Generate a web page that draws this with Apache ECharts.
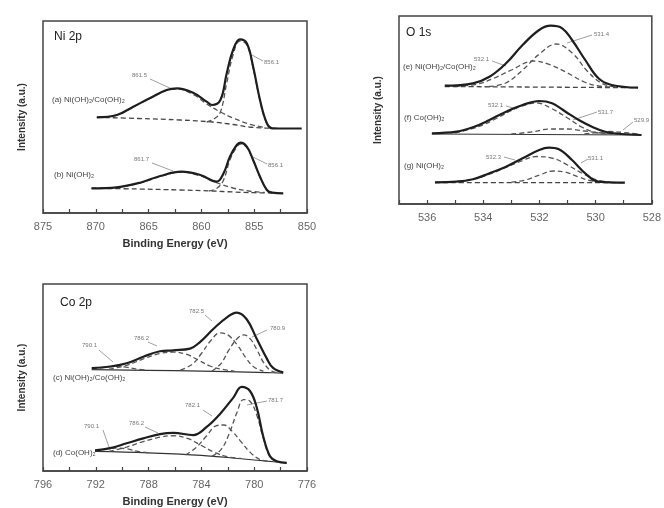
<!DOCTYPE html>
<html>
<head>
<meta charset="utf-8">
<script src="https://cdn.jsdelivr.net/npm/echarts@6/dist/echarts.min.js"></script>
<style>
  html, body { margin: 0; padding: 0; background: #fff; }
  #main { width: 664px; height: 508px; }
</style>
</head>
<body>
<div id="main"></div>
<script>
// binding energy (eV), intensity (a.u.)

// Ni 2p, (a) Ni(OH)2/Co(OH)2
const niA_env = [[869.9,95.7],[868.0,98],[866.45,106.3],[864.9,114.7],[863.3,123],[862.3,124.7],[860.7,119.7],[859.5,111.3],[859.0,108],[858.2,113],[857.6,139.7],[857.0,163],[856.35,173.7],[855.7,169.7],[855.1,146.3],[854.45,113],[853.8,89.7],[853.3,84.7],[852.0,84.5],[850.5,84.5]];
const niA_base = [[869.9,95.7],[866,94.5],[862,93],[859,91],[857,88.5],[855.5,86],[854,85],[852.5,84.5]];
const niA_sat = [[869.9,95.7],[868,98],[866.45,106],[864.9,114.5],[863.3,122.5],[862.3,124],[860.7,118],[859.5,109],[858.2,101],[857,95],[855.5,89],[854,85.5]];
const niA_main = [[859.5,91],[858.8,94],[858.2,101],[857.6,130],[857.0,158],[856.35,172],[855.7,168],[855.1,145],[854.45,112],[853.8,89.5],[853.3,85]];
// Ni 2p, (b) Ni(OH)2
const niB_env = [[870.4,24.7],[868,25.7],[865.8,30.3],[863.9,37],[861.9,41.3],[860.1,38],[858.55,31.3],[857.9,39.7],[857.3,56.3],[856.65,68],[856.3,70.3],[855.7,66.3],[855.1,53],[854.45,36.3],[853.8,23],[853.3,20.3],[852.25,19.7]];
const niB_base = [[870.4,24.7],[866,24],[862,23],[859,22],[857,21],[855,20.3],[853.3,20]];
const niB_sat = [[870.4,24.7],[868,25.7],[865.8,30],[863.9,36.5],[861.9,40.8],[860.1,37],[858.5,30],[857,25],[855.5,22],[854,20.5]];
const niB_main = [[859.3,22],[858.5,25],[857.9,33],[857.3,53],[856.65,66],[856.3,69],[855.7,65.5],[855.1,52.5],[854.45,36],[853.8,23],[853.3,20.3]];

// O 1s, (e) Ni(OH)2/Co(OH)2
const oE_env = [[535.37,118.3],[534.37,120.7],[533.78,127.3],[533.19,140.7],[532.6,159],[532.01,174],[531.6,178.3],[531.19,175.7],[530.84,164],[530.37,144],[529.9,125.7],[529.43,119],[528.49,116.3]];
const oE_base = [[535.37,117.5],[528.49,116.3]];
const oE_c1 = [[533.8,117.5],[533.2,121],[532.6,134],[532.0,150],[531.4,160],[530.8,150],[530.3,133],[529.8,121],[529.3,117]];
const oE_c2 = [[535.0,117.5],[534.2,120],[533.6,126],[533.0,134],[532.2,143],[531.6,139],[531.0,131],[530.4,122],[529.9,118],[529.4,117]];
// O 1s, (f) Co(OH)2
const oF_env = [[535.83,70.7],[534.95,72.3],[534.37,76.7],[533.78,84],[533.19,92.3],[532.6,99],[532.01,103],[531.55,100.7],[531.07,92.3],[530.6,84],[530.13,77.3],[529.66,72.3],[529.08,70],[528.37,69]];
const oF_base = [[535.83,70],[528.37,69]];
const oF_c1 = [[535.0,71],[534.2,77],[533.5,86],[532.8,96],[532.1,101],[531.6,96],[531.0,86],[530.5,77],[530.0,71.5],[529.4,70]];
const oF_c2 = [[533.0,70],[532.3,72],[531.6,75],[531.0,75],[530.4,73],[529.8,71],[529.2,70]];
const oF_c3 = [[530.4,70],[529.9,71.5],[529.5,72.5],[529.0,71.5],[528.5,70]];
// O 1s, (g) Ni(OH)2
const oG_env = [[535.72,21.7],[534.95,22.3],[534.37,24.7],[533.78,30.7],[533.19,37.3],[532.6,45.7],[532.01,54],[531.66,56.3],[531.31,54.7],[530.84,44],[530.37,30.7],[529.9,22.3],[528.96,21.3]];
const oG_base = [[535.72,21.5],[528.96,21.3]];
const oG_c1 = [[535.5,21.7],[534.5,24],[533.8,29.5],[533.2,36.5],[532.6,43.5],[532.1,47.5],[531.5,45.5],[531.0,39],[530.5,31],[530.0,24.5],[529.5,21.8]];
const oG_c2 = [[533.0,21.8],[532.5,24],[532.0,29],[531.5,33],[531.1,32],[530.6,27],[530.2,23.5],[529.7,21.8]];

// Co 2p, (c) Ni(OH)2/Co(OH)2
const coC_env = [[792.31,105],[790.92,106.7],[789.66,110],[788.4,116.7],[787.14,122.3],[786.13,123.3],[784.86,125],[784.11,131.7],[783.1,145],[782.09,156.7],[781.33,161.7],[780.57,155],[779.81,135],[779.05,115],[778.55,105],[777.8,100.7]];
const coC_base = [[792.31,103.5],[786,102.5],[782,101.5],[779,100.5],[777.8,100]];
const coC_s1 = [[792.3,104],[791.3,106],[790.5,107],[789.7,106],[788.9,104],[788.2,103.2]];
const coC_s2 = [[791.0,104],[789.66,108],[788.4,114.5],[787.14,120],[786.13,121.5],[785.1,119],[784.2,113],[783.3,107],[782.3,103.5],[781.5,102]];
const coC_p1 = [[785.6,103],[784.7,109],[784.0,120],[783.3,133],[782.6,141],[782.0,139],[781.3,129],[780.6,115],[780.0,106],[779.3,102]];
const coC_p2 = [[783.2,102],[782.5,110],[781.9,124],[781.3,135],[780.8,139],[780.3,135],[779.8,124],[779.3,111],[778.8,103],[778.3,100.5]];
// Co 2p, (d) Co(OH)2
const coD_env = [[792.06,21],[790.92,23.3],[789.66,28.3],[788.4,33.3],[787.14,37.7],[786.13,39],[784.61,36.7],[783.6,45],[782.59,58.3],[781.58,75],[780.95,86],[780.32,81.7],[779.81,65],[779.31,35],[778.8,15],[778.3,10],[777.54,8.3]];
const coD_base = [[792.06,20],[788,18.5],[784,16],[781,12.5],[779,10],[777.54,8.3]];
const coD_s1 = [[792.0,20.5],[791.2,22.5],[790.4,23.5],[789.6,22.5],[788.8,20],[788.0,18.5]];
const coD_s2 = [[791.0,20],[789.66,24.5],[788.4,30],[787.14,34.5],[786.13,36],[785.0,33],[784.0,26],[783.0,19],[782.0,14.5],[781.0,12.8]];
const coD_p1 = [[785.2,16.5],[784.4,24],[783.6,36],[782.9,46],[782.3,47],[781.7,41],[781.0,30],[780.3,19],[779.6,12],[779.0,10]];
const coD_p2 = [[783.2,15],[782.5,22],[781.9,38],[781.3,60],[780.8,73],[780.3,71],[779.8,57],[779.3,33],[778.8,14],[778.3,9.5]];

// axis ranges: [min, max, tick step, label step]
const niAxis = [850, 875, 2.5, 5];
const oAxis = [528, 537, 1, 2];
const coAxis = [776, 796, 2, 4];

const chart = echarts.init(document.getElementById('main'));

const envStyle = { color: '#1e1e1e', width: 2.2 };
const compStyle = { color: '#555', width: 1.3, type: [5, 3] };
const baseDash = { color: '#444', width: 1.3, type: [5, 3] };
const baseSolid = { color: '#333', width: 1.2 };

const line = (data, g, style) => ({
    type: 'line', data, xAxisIndex: g, yAxisIndex: g,
    symbol: 'none', smooth: 0.4, silent: true,
    lineStyle: style, z: style === envStyle ? 5 : 3
});

const xAx = (g, ax, name) => ({
    type: 'value', gridIndex: g, inverse: true,
    min: ax[0], max: ax[1], interval: ax[2],
    axisLine: { show: true, lineStyle: { color: '#444', width: 1.5 } },
    axisTick: { show: true, inside: true, length: 4, lineStyle: { color: '#444', width: 1.2 } },
    axisLabel: {
        color: '#666', fontSize: 11, fontFamily: 'Liberation Sans', margin: 8,
        formatter: v => (Math.abs(v / ax[3] - Math.round(v / ax[3])) < 1e-6 ? String(v) : '')
    },
    splitLine: { show: false },
    name: name || '', nameLocation: 'middle', nameGap: 25,
    nameTextStyle: { color: '#333', fontSize: 11, fontWeight: 'bold', fontFamily: 'Liberation Sans' }
});

const yAx = (g, max) => ({
    type: 'value', gridIndex: g, min: 0, max,
    axisLine: { show: false }, axisTick: { show: false }, axisLabel: { show: false },
    splitLine: { show: false },
    name: 'Intensity (a.u.)', nameLocation: 'middle', nameGap: 16, nameRotate: 90,
    nameTextStyle: { color: '#333', fontSize: 10, fontWeight: 'bold', fontFamily: 'Liberation Sans' }
});

const txt = (text, x, y, size, color, weight) => ({
    type: 'text', x, y, silent: true,
    style: { text, fontSize: size, fill: color, fontFamily: 'Liberation Sans',
             fontWeight: weight || 'normal', textVerticalAlign: 'middle' }
});
const lead = (x1, y1, x2, y2) => ({
    type: 'line', silent: true,
    shape: { x1, y1, x2, y2 }, style: { stroke: '#888', lineWidth: 0.8 }
});

chart.setOption({
    animation: false,
    grid: [
        { left: 43, top: 21, width: 264, height: 192, show: true, borderColor: '#444', borderWidth: 1.5 },
        { left: 399, top: 16, width: 256, height: 188, show: true, borderColor: '#444', borderWidth: 1.5 },
        { left: 43, top: 284, width: 264, height: 191, show: true, borderColor: '#444', borderWidth: 1.5 }
    ],
    xAxis: [xAx(0, niAxis, 'Binding Energy (eV)'), xAx(1, oAxis), xAx(2, coAxis, 'Binding Energy (eV)')],
    yAxis: [yAx(0, 192), yAx(1, 188), yAx(2, 191)],
    series: [
        line(niA_base, 0, baseDash), line(niA_sat, 0, compStyle), line(niA_main, 0, compStyle), line(niA_env, 0, envStyle),
        line(niB_base, 0, baseDash), line(niB_sat, 0, compStyle), line(niB_main, 0, compStyle), line(niB_env, 0, envStyle),
        line(oE_base, 1, baseDash), line(oE_c1, 1, compStyle), line(oE_c2, 1, compStyle), line(oE_env, 1, envStyle),
        line(oF_base, 1, baseSolid), line(oF_c1, 1, compStyle), line(oF_c2, 1, compStyle), line(oF_c3, 1, compStyle), line(oF_env, 1, envStyle),
        line(oG_base, 1, baseDash), line(oG_c1, 1, compStyle), line(oG_c2, 1, compStyle), line(oG_env, 1, envStyle),
        line(coC_base, 2, baseSolid), line(coC_s1, 2, compStyle), line(coC_s2, 2, compStyle), line(coC_p1, 2, compStyle), line(coC_p2, 2, compStyle), line(coC_env, 2, envStyle),
        line(coD_base, 2, baseSolid), line(coD_s1, 2, compStyle), line(coD_s2, 2, compStyle), line(coD_p1, 2, compStyle), line(coD_p2, 2, compStyle), line(coD_env, 2, envStyle)
    ],
    graphic: [
        // panel titles
        txt('Ni 2p', 54, 37, 12, '#222'),
        txt('O 1s', 406, 33, 12, '#222'),
        txt('Co 2p', 60, 303, 12, '#222'),
        // sample labels
        txt('(a) Ni(OH)₂/Co(OH)₂', 52, 100, 8, '#444'),
        txt('(b) Ni(OH)₂', 54, 175, 8, '#444'),
        txt('(e) Ni(OH)₂/Co(OH)₂', 403, 67, 8, '#444'),
        txt('(f) Co(OH)₂', 404, 118, 8, '#444'),
        txt('(g) Ni(OH)₂', 404, 166, 8, '#444'),
        txt('(c) Ni(OH)₂/Co(OH)₂', 53, 378, 8, '#444'),
        txt('(d) Co(OH)₂', 53, 453, 8, '#444'),
        // Ni 2p peak labels
        txt('861.5', 132, 75, 6, '#777'), lead(150, 79, 172, 89),
        txt('856.1', 264, 62, 6, '#777'), lead(252, 55, 263, 61),
        txt('861.7', 134, 159, 6, '#777'), lead(152, 163, 173, 171),
        txt('856.1', 268, 165, 6, '#777'), lead(253, 157, 267, 164),
        // O 1s peak labels
        txt('532.1', 474, 59, 6, '#777'), lead(492, 61, 506, 66),
        txt('531.4', 594, 34, 6, '#777'), lead(592, 35, 567, 43),
        txt('532.1', 488, 105, 6, '#777'), lead(506, 106, 517, 109),
        txt('531.7', 598, 112, 6, '#777'), lead(597, 112, 573, 120),
        txt('529.9', 634, 120, 6, '#777'), lead(633, 122, 623, 130),
        txt('532.3', 486, 157, 6, '#777'), lead(504, 157, 515, 160),
        txt('531.1', 588, 158, 6, '#777'), lead(588, 159, 581, 163),
        // Co 2p peak labels
        txt('782.5', 189, 311, 6, '#777'), lead(205, 315, 212, 321),
        txt('780.9', 270, 328, 6, '#777'), lead(267, 330, 252, 337),
        txt('786.2', 134, 338, 6, '#777'), lead(148, 342, 157, 346),
        txt('790.1', 82, 345, 6, '#777'), lead(99, 350, 113, 362),
        txt('781.7', 268, 400, 6, '#777'), lead(267, 401, 247, 405),
        txt('782.1', 185, 405, 6, '#777'), lead(203, 410, 212, 416),
        txt('786.2', 129, 423, 6, '#777'), lead(145, 427, 158, 433),
        txt('790.1', 84, 426, 6, '#777'), lead(103, 430, 110, 450)
    ]
});
</script>
</body>
</html>
